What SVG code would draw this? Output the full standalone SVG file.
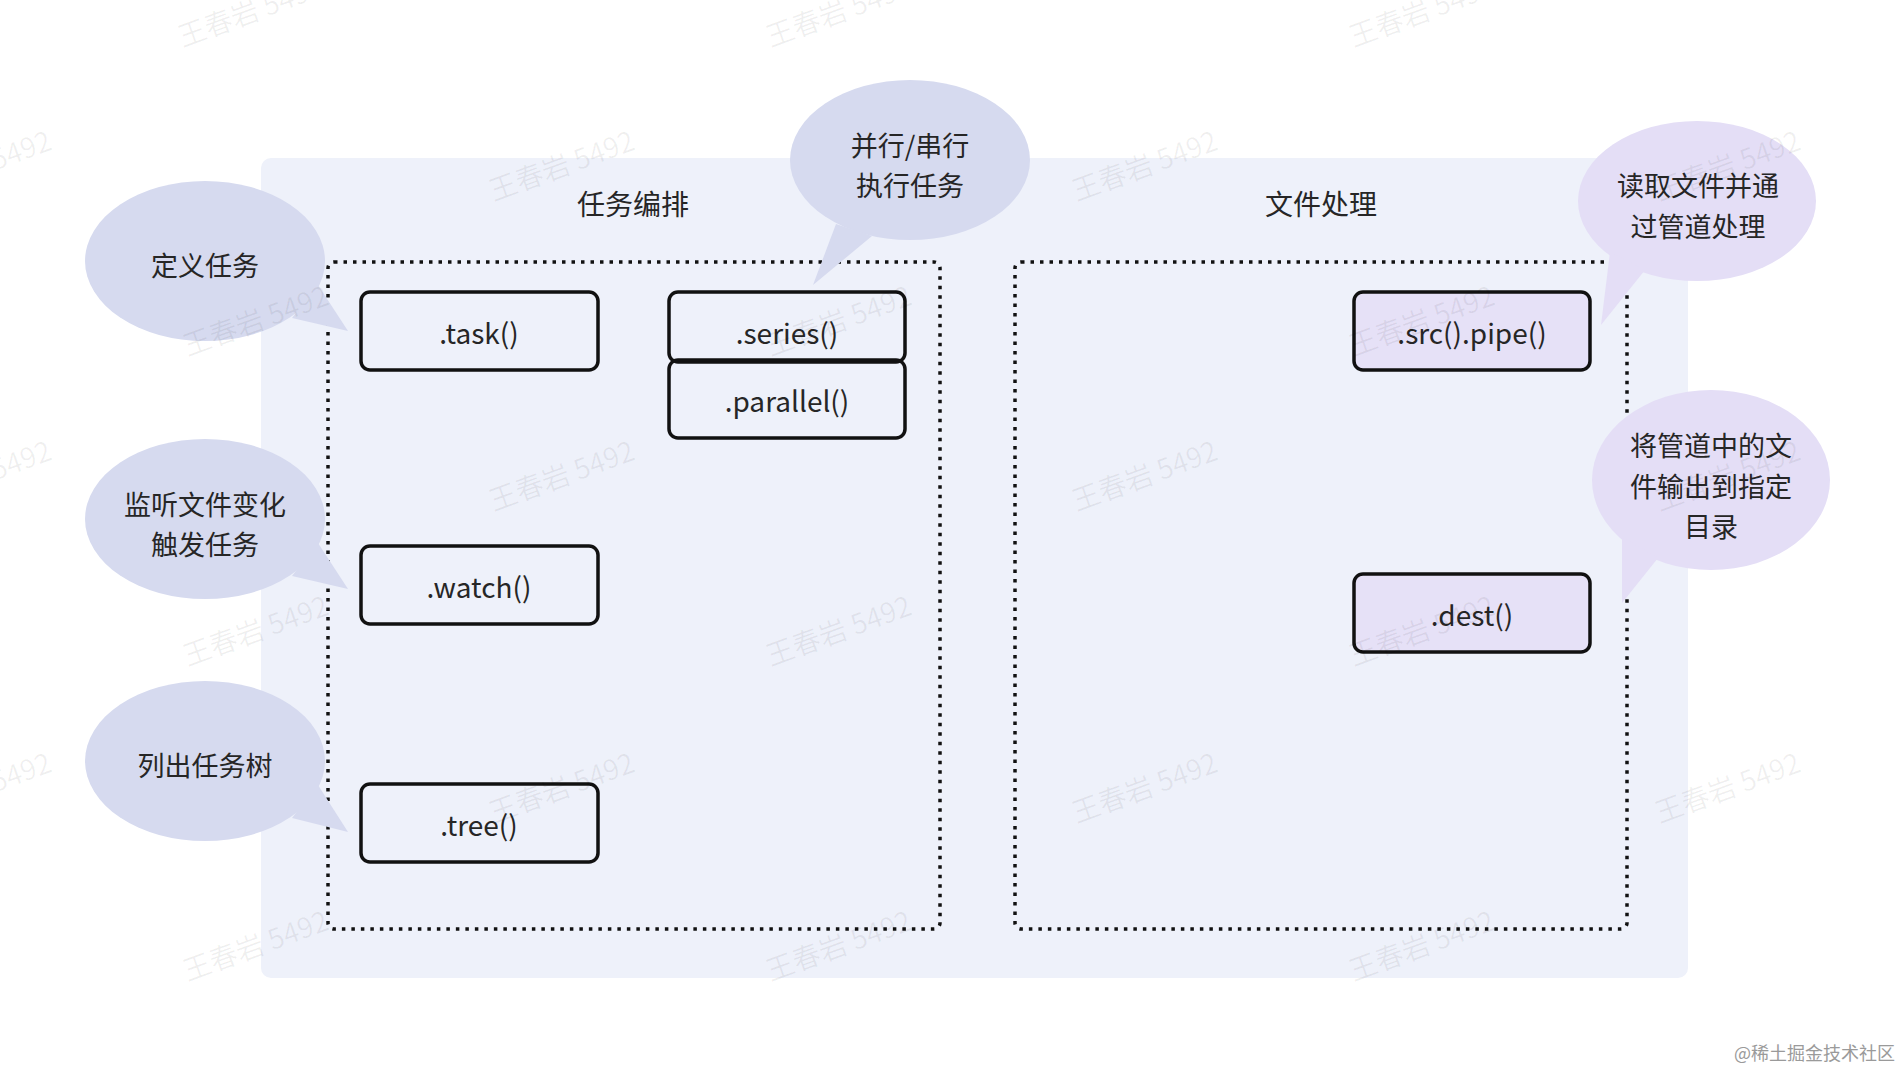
<svg xmlns="http://www.w3.org/2000/svg" width="1902" height="1070" viewBox="0 0 1902 1070">
<style>
text{font-family:"Noto Sans CJK SC","Noto Sans",sans-serif;fill:#262626;text-anchor:middle;dominant-baseline:central}
.lbl{font-size:28px}
.bt{font-size:27px}
.ttl{font-size:28px}
.box{fill:none;stroke:#111;stroke-width:3.5}
.boxp{fill:#e6e1f7;stroke:#111;stroke-width:3.5}
.dot{fill:none;stroke:#111;stroke-width:3.5;stroke-dasharray:3.5 6}
.bb{fill:#d6daef}
.bp{fill:#e4def6}
.wm{font-size:28px;fill:#000;fill-opacity:0.06;text-anchor:middle}
</style>
<rect width="1902" height="1070" fill="#ffffff"/>
<g id="panel">
<rect x="261" y="158" width="1427" height="820" rx="10" fill="#eef1fa"/>
<text class="ttl" x="633" y="203">任务编排</text>
<text class="ttl" x="1321" y="203">文件处理</text>
<rect class="dot" x="328" y="262" width="612" height="667" rx="6"/>
<rect class="dot" x="1015" y="262" width="612" height="667" rx="6"/>
</g>
<g id="connectors"></g>
<g id="task">
<rect class="box" x="361" y="292" width="237" height="78" rx="9"/>
<text class="lbl" x="479" y="332">.task()</text>
</g>
<g id="series">
<rect class="box" x="669" y="292" width="236" height="70" rx="9"/>
<text class="lbl" x="787" y="332">.series()</text>
</g>
<g id="parallel">
<rect class="box" x="669" y="360" width="236" height="78" rx="9"/>
<text class="lbl" x="787" y="400">.parallel()</text>
</g>
<g id="watch">
<rect class="box" x="361" y="546" width="237" height="78" rx="9"/>
<text class="lbl" x="479" y="586">.watch()</text>
</g>
<g id="tree">
<rect class="box" x="361" y="784" width="237" height="78" rx="9"/>
<text class="lbl" x="479" y="824">.tree()</text>
</g>
<g id="srcpipe">
<rect class="boxp" x="1354" y="292" width="236" height="78" rx="9"/>
<text class="lbl" x="1472" y="332">.src().pipe()</text>
</g>
<g id="dest">
<rect class="boxp" x="1354" y="574" width="236" height="78" rx="9"/>
<text class="lbl" x="1472" y="614">.dest()</text>
</g>
<g id="bubble-define">
<ellipse class="bb" cx="205" cy="261" rx="120" ry="80"/>
<polygon class="bb" points="318,285 292,318 348,331"/>
<text class="bt" x="205" y="264">定义任务</text>
</g>
<g id="bubble-parallel">
<ellipse class="bb" cx="910" cy="160" rx="120" ry="80"/>
<polygon class="bb" points="872,236 836,224 813,285"/>
<text class="bt" x="910" y="144">并行/串行</text>
<text class="bt" x="910" y="184">执行任务</text>
</g>
<g id="bubble-watch">
<ellipse class="bb" cx="205" cy="519" rx="120" ry="80"/>
<polygon class="bb" points="318,543 292,576 348,589"/>
<text class="bt" x="205" y="503">监听文件变化</text>
<text class="bt" x="205" y="543">触发任务</text>
</g>
<g id="bubble-tree">
<ellipse class="bb" cx="205" cy="761" rx="120" ry="80"/>
<polygon class="bb" points="318,785 292,818 348,832"/>
<text class="bt" x="205" y="764">列出任务树</text>
</g>
<g id="bubble-src">
<ellipse class="bp" cx="1697" cy="201" rx="119" ry="80"/>
<polygon class="bp" points="1645,270 1610,252 1601,325"/>
<text class="bt" x="1698" y="184">读取文件并通</text>
<text class="bt" x="1698" y="225">过管道处理</text>
</g>
<g id="bubble-dest">
<ellipse class="bp" cx="1711" cy="480" rx="119" ry="90"/>
<polygon class="bp" points="1658,558 1622,537 1622,603"/>
<text class="bt" x="1711" y="444">将管道中的文</text>
<text class="bt" x="1711" y="485">件输出到指定</text>
<text class="bt" x="1711" y="525">目录</text>
</g>
<g id="watermarks">
<text class="wm" transform="translate(250,10) rotate(-20)">王春岩 5492</text>
<text class="wm" transform="translate(838,10) rotate(-20)">王春岩 5492</text>
<text class="wm" transform="translate(1421,10) rotate(-20)">王春岩 5492</text>
<text class="wm" transform="translate(-22,164) rotate(-20)">王春岩 5492</text>
<text class="wm" transform="translate(561,164) rotate(-20)">王春岩 5492</text>
<text class="wm" transform="translate(1144,164) rotate(-20)">王春岩 5492</text>
<text class="wm" transform="translate(1727,164) rotate(-20)">王春岩 5492</text>
<text class="wm" transform="translate(255,319) rotate(-20)">王春岩 5492</text>
<text class="wm" transform="translate(838,319) rotate(-20)">王春岩 5492</text>
<text class="wm" transform="translate(1421,319) rotate(-20)">王春岩 5492</text>
<text class="wm" transform="translate(-22,474) rotate(-20)">王春岩 5492</text>
<text class="wm" transform="translate(561,474) rotate(-20)">王春岩 5492</text>
<text class="wm" transform="translate(1144,474) rotate(-20)">王春岩 5492</text>
<text class="wm" transform="translate(1727,474) rotate(-20)">王春岩 5492</text>
<text class="wm" transform="translate(255,629) rotate(-20)">王春岩 5492</text>
<text class="wm" transform="translate(838,629) rotate(-20)">王春岩 5492</text>
<text class="wm" transform="translate(1421,629) rotate(-20)">王春岩 5492</text>
<text class="wm" transform="translate(-22,786) rotate(-20)">王春岩 5492</text>
<text class="wm" transform="translate(561,786) rotate(-20)">王春岩 5492</text>
<text class="wm" transform="translate(1144,786) rotate(-20)">王春岩 5492</text>
<text class="wm" transform="translate(1727,786) rotate(-20)">王春岩 5492</text>
<text class="wm" transform="translate(255,944) rotate(-20)">王春岩 5492</text>
<text class="wm" transform="translate(838,944) rotate(-20)">王春岩 5492</text>
<text class="wm" transform="translate(1421,944) rotate(-20)">王春岩 5492</text>
</g>
<text x="1895" y="1052" style="font-size:18px;fill:#9a9a9a;text-anchor:end">@稀土掘金技术社区</text>
</svg>
